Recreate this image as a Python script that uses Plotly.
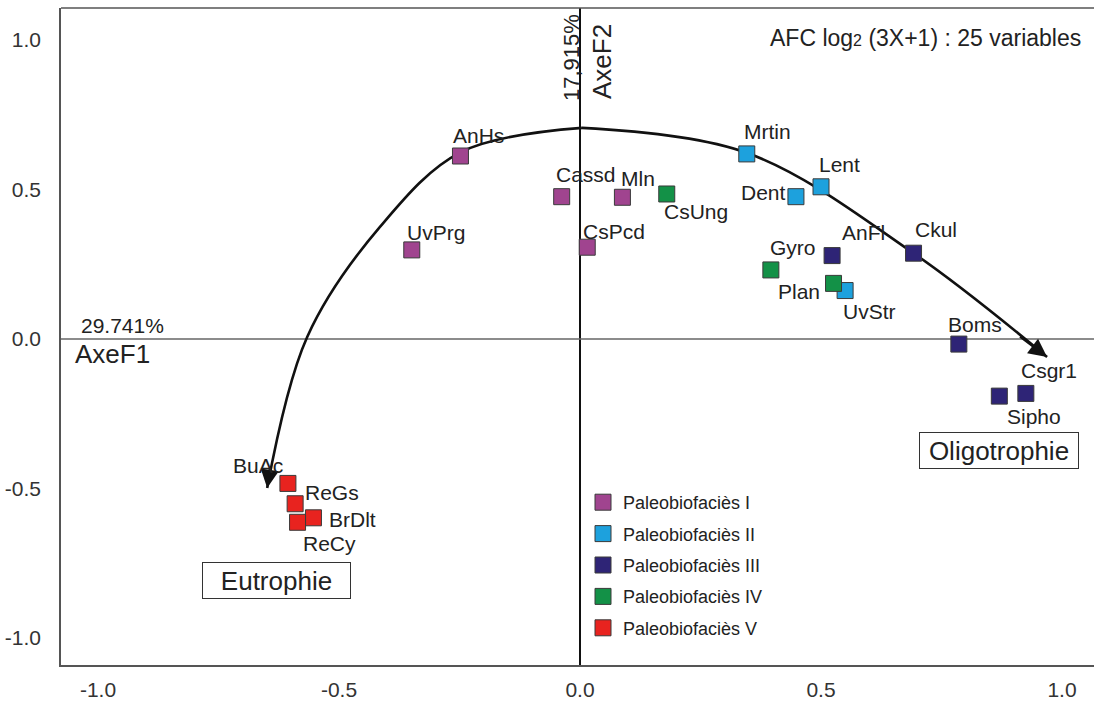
import plotly.graph_objects as go

# ---------------- data ----------------
facies_names = ["Paleobiofaciès I", "Paleobiofaciès II", "Paleobiofaciès III",
                "Paleobiofaciès IV", "Paleobiofaciès V"]
facies_colors = ["#A0448F", "#1DA1DD", "#2E2476", "#139147", "#E8231F"]

f1_labels = ["AnHs", "Cassd", "Mln", "CsPcd", "UvPrg"]
f1_x = [-0.248, -0.038, 0.088, 0.015, -0.349]
f1_y = [0.612, 0.476, 0.474, 0.307, 0.298]

f2_labels = ["Mrtin", "Lent", "Dent", "UvStr"]
f2_x = [0.346, 0.500, 0.448, 0.550]
f2_y = [0.619, 0.509, 0.476, 0.162]

f3_labels = ["AnFl", "Ckul", "Boms", "Csgr1", "Sipho"]
f3_x = [0.523, 0.692, 0.786, 0.925, 0.870]
f3_y = [0.279, 0.287, -0.017, -0.182, -0.191]

f4_labels = ["CsUng", "Gyro", "Plan"]
f4_x = [0.180, 0.396, 0.526]
f4_y = [0.485, 0.231, 0.186]

f5_labels = ["BuAc", "ReGs", "BrDlt", "ReCy"]
f5_x = [-0.606, -0.591, -0.553, -0.586]
f5_y = [-0.483, -0.551, -0.598, -0.613]

# trend curve (annotation arrow), two branches from the apex
trend_left_x = [0.004, -0.247, -0.415, -0.566, -0.649]
trend_left_y = [0.706, 0.625, 0.375, 0.007, -0.498]
trend_right_x = [0.004, 0.347, 0.691, 0.969]
trend_right_y = [0.706, 0.622, 0.288, -0.060]
# arrow tails (a short way back along each branch)
arrow_tail_left = (-0.643, -0.430)
arrow_tail_right = (0.910, 0.012)

tick_vals = [-1.0, -0.5, 0.0, 0.5, 1.0]
tick_text = ["-1.0", "-0.5", "0.0", "0.5", "1.0"]

# label offsets in pixels (dx right, dy down)
label_offsets = {
    "AnHs": (18, -21), "Cassd": (24, -22), "Mln": (16, -19), "CsUng": (29, 18),
    "CsPcd": (27, -16), "UvPrg": (24, -17), "Mrtin": (21, -22), "Lent": (18, -22),
    "Dent": (-32, -4), "AnFl": (31, -23), "Ckul": (22, -24), "Gyro": (22, -22),
    "Plan": (-35, 8), "UvStr": (24, 21), "Boms": (16, -20), "Csgr1": (23, -23),
    "Sipho": (35, 20), "BuAc": (-30, -18), "ReGs": (37, -11), "BrDlt": (39, 2),
    "ReCy": (32, 21),
}

FONT = "Liberation Sans, Arial, sans-serif"
W, H = 1094, 702
L, R, T, B = 61, 0, 8, 37
PW, PH = W - L - R, H - T - B


def paper(px, py):
    return (px - L) / PW, (T + PH - py) / PH


groups = [
    (f1_labels, f1_x, f1_y), (f2_labels, f2_x, f2_y), (f3_labels, f3_x, f3_y),
    (f4_labels, f4_x, f4_y), (f5_labels, f5_x, f5_y),
]

fig = go.Figure()

for tx, ty in [(trend_left_x, trend_left_y), (trend_right_x, trend_right_y)]:
    fig.add_trace(go.Scatter(
        x=tx, y=ty, mode="lines", showlegend=False, hoverinfo="skip",
        line=dict(color="#111111", width=2.6, shape="spline", smoothing=1.0),
    ))

annotations = []
for (tail, tx, ty) in [(arrow_tail_left, trend_left_x, trend_left_y),
                       (arrow_tail_right, trend_right_x, trend_right_y)]:
    annotations.append(dict(
        x=tx[-1], y=ty[-1], xref="x", yref="y", ax=tail[0], ay=tail[1],
        axref="x", ayref="y", text="", showarrow=True, arrowhead=2,
        arrowsize=1.4, arrowwidth=2.6, arrowcolor="#111111", standoff=0,
    ))

for (labels, xs, ys), name, col in zip(groups, facies_names, facies_colors):
    fig.add_trace(go.Scatter(
        x=xs, y=ys, mode="markers", name=name, text=labels,
        marker=dict(symbol="square", size=16, color=col,
                    line=dict(color="#3a3a3a", width=1)),
        legendgroup=name,
    ))
    for lab, x, y in zip(labels, xs, ys):
        dx, dy = label_offsets[lab]
        annotations.append(dict(
            x=x, y=y, xref="x", yref="y", text=lab, showarrow=False,
            xshift=dx, yshift=-dy, font=dict(family=FONT, size=21, color="#222222"),
        ))


def add_text(txt, px, py, size, angle=0, xanchor="center", **kw):
    xp, yp = paper(px, py)
    d = dict(x=xp, y=yp, xref="paper", yref="paper", text=txt, showarrow=False,
             textangle=angle, xanchor=xanchor, yanchor="middle",
             font=dict(family=FONT, size=size, color="#222222"))
    d.update(kw)
    annotations.append(d)


add_text("29.741%", 122, 325, 21)
add_text("AxeF1", 112, 354, 26)
add_text("17,915%", 571, 58, 22, angle=-90)
add_text("AxeF2", 602, 62, 26, angle=-90)
add_text('AFC log<span style="font-size:16px">2</span> (3X+1) : 25 variables',
         1083, 38, 23, xanchor="right")
add_text("Oligotrophie", 999, 450, 26, bordercolor="#333333", borderwidth=1,
         borderpad=1, width=156, height=33)
add_text("Eutrophie", 276, 580, 26, bordercolor="#333333", borderwidth=1,
         borderpad=1, width=145, height=33)

shapes = [
    dict(type="line", xref="x", yref="paper", x0=0, x1=0, y0=0, y1=1,
         line=dict(color="#111111", width=2), layer="below"),
    dict(type="line", xref="paper", yref="y", x0=0, x1=1, y0=0, y1=0,
         line=dict(color="#666666", width=1.5), layer="below"),
    dict(type="line", xref="paper", yref="paper", x0=0, x1=1, y0=1, y1=1,
         line=dict(color="#555555", width=1.5)),
]

x0 = (L - 580) / 482
x1 = (W - R - 580) / 482
y1 = (339 - T) / 299
y0 = (339 - (T + PH)) / 299

lx, ly = paper(583, 484)

fig.update_layout(
    width=W, height=H, margin=dict(l=L, r=R, t=T, b=B, autoexpand=False),
    paper_bgcolor="white", plot_bgcolor="white",
    font=dict(family=FONT, size=21, color="#333333"),
    xaxis=dict(range=[x0, x1], showgrid=False, zeroline=False, showline=True,
               linecolor="#555555", linewidth=1.5, tickvals=tick_vals, ticktext=tick_text,
               ticks="", ticklabelstandoff=5, automargin=False,
               tickfont=dict(family=FONT, size=21, color="#333333")),
    yaxis=dict(range=[y0, y1], showgrid=False, zeroline=False, showline=True,
               linecolor="#555555", linewidth=1.5, tickvals=tick_vals, ticktext=tick_text,
               ticks="", ticklabelstandoff=14, automargin=False,
               tickfont=dict(family=FONT, size=21, color="#333333")),
    showlegend=True,
    legend=dict(x=lx, y=ly, xanchor="left", yanchor="top", bgcolor="rgba(0,0,0,0)",
                font=dict(family=FONT, size=18, color="#222222"),
                itemsizing="trace", tracegroupgap=5, traceorder="grouped"),
    annotations=annotations, shapes=shapes,
)

fig.write_html("out.html")
